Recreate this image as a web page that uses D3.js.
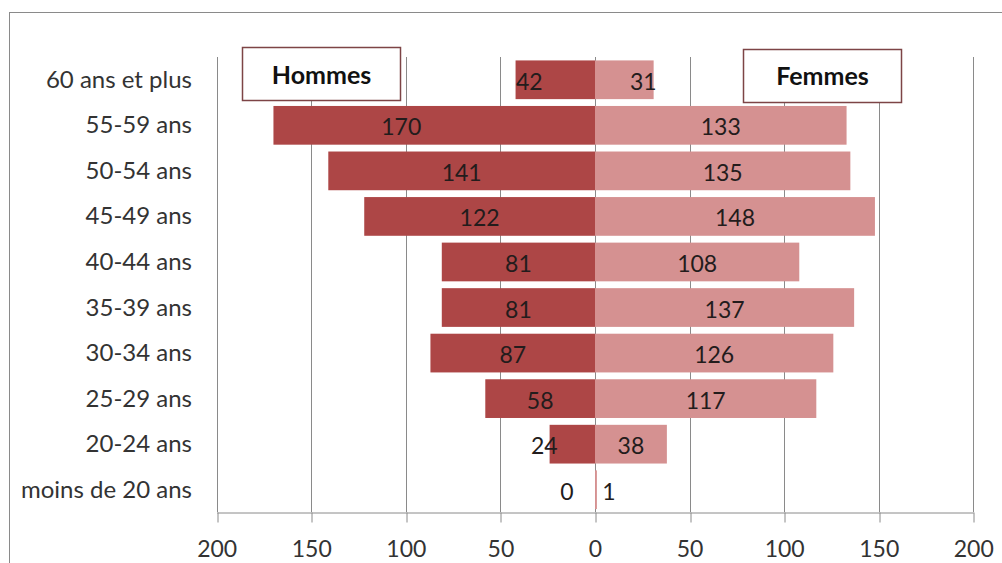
<!DOCTYPE html>
<html>
<head>
<meta charset="utf-8">
<script src="https://cdn.jsdelivr.net/npm/d3@7"></script>
<style>
  html, body { margin: 0; padding: 0; background: #fff; }
  svg { display: block; }
  text { font-family: Lato, "Open Sans", sans-serif; }
</style>
</head>
<body>
<svg id="chart" width="1002" height="563"></svg>
<script>
// Effectifs par tranche d'âge
const categories = ["60 ans et plus", "55-59 ans", "50-54 ans", "45-49 ans", "40-44 ans",
                    "35-39 ans", "30-34 ans", "25-29 ans", "20-24 ans", "moins de 20 ans"];
const hommes = [42, 170, 141, 122, 81, 81, 87, 58, 24, 0];
const femmes = [31, 133, 135, 148, 108, 137, 126, 117, 38, 1];
const tickValues = [-200, -150, -100, -50, 0, 50, 100, 150, 200];
const tickLabels = ["200", "150", "100", "50", "0", "50", "100", "150", "200"];
const seriesNames = ["Hommes", "Femmes"];

const colHommes = "#ad4646";
const colFemmes = "#d59191";
const gridCol = "#8a8a8a";

const svg = d3.select("#chart");

// chart frame
svg.append("rect")
  .attr("x", 9.5).attr("y", 12.5).attr("width", 1100).attr("height", 600)
  .attr("fill", "none").attr("stroke", gridCol).attr("stroke-width", 1);

const plotTop = 57, plotBottom = 512;
const x = d3.scaleLinear().domain([-200, 200]).range([216.7, 973.3]);
const y = d3.scaleBand().domain(categories).range([plotTop, plotBottom + 0.5])
  .paddingInner(0.15).paddingOuter(0.075);

// vertical gridlines
svg.append("g").selectAll("line").data(tickValues).join("line")
  .attr("x1", d => Math.round(x(d)) + 0.5).attr("x2", d => Math.round(x(d)) + 0.5)
  .attr("y1", plotTop).attr("y2", plotBottom)
  .attr("stroke", gridCol).attr("stroke-width", 1);

// bottom axis
const axis = svg.append("g")
  .attr("transform", `translate(0,${plotBottom + 0.5})`)
  .call(d3.axisBottom(x).tickValues(tickValues)
    .tickFormat((d, i) => tickLabels[i])
    .tickSize(10).tickSizeOuter(0).tickPadding(18));
axis.select(".domain").attr("stroke", gridCol);
axis.selectAll(".tick line").attr("stroke", gridCol)
  .attr("transform", d => `translate(${Math.round(x(d)) + 0.5 - x(d)},0)`);
axis.selectAll(".tick text")
  .attr("fill", "#333").style("font-size", "23px")
  .style("font-family", "Lato, 'Open Sans', sans-serif");

// category labels
svg.append("g").selectAll("text").data(categories).join("text")
  .attr("x", 192).attr("y", d => y(d) + y.bandwidth() / 2 + 8)
  .attr("text-anchor", "end").attr("fill", "#333")
  .style("font-size", "24px").text(d => d);

// bars
const rows = categories.map((c, i) => ({ cat: c, h: hommes[i], f: femmes[i] }));
svg.append("g").selectAll("rect").data(rows).join("rect")
  .attr("x", d => x(-d.h)).attr("width", d => x(0) - x(-d.h))
  .attr("y", d => y(d.cat)).attr("height", y.bandwidth())
  .attr("fill", colHommes);
svg.append("g").selectAll("rect").data(rows).join("rect")
  .attr("x", x(0)).attr("width", d => x(d.f) - x(0))
  .attr("y", d => y(d.cat)).attr("height", y.bandwidth())
  .attr("fill", colFemmes);

// value labels (a few are moved aside to stay readable)
const nudgeH = { "60 ans et plus": -26, "55-59 ans": -33, "20-24 ans": -28, "moins de 20 ans": -28 };
const nudgeF = { "60 ans et plus": 19, "moins de 20 ans": 13 };
const labelG = svg.append("g").style("font-size", "23px").attr("fill", "#231c1c")
  .attr("text-anchor", "middle");
labelG.selectAll("text.h").data(rows).join("text").attr("class", "h")
  .attr("x", d => (x(-d.h) + x(0)) / 2 + (nudgeH[d.cat] || 0))
  .attr("y", d => y(d.cat) + y.bandwidth() / 2 + 10)
  .text(d => d.h);
labelG.selectAll("text.f").data(rows).join("text").attr("class", "f")
  .attr("x", d => (x(d.f) + x(0)) / 2 + (nudgeF[d.cat] || 0))
  .attr("y", d => y(d.cat) + y.bandwidth() / 2 + 10)
  .text(d => d.f);

// series title boxes
const boxes = [
  { name: seriesNames[0], x: 242.5, y: 47.5, w: 158, h: 53, base: 84 },
  { name: seriesNames[1], x: 743.5, y: 49.5, w: 158, h: 53, base: 85 }
];
const bg = svg.append("g").selectAll("g").data(boxes).join("g");
bg.append("rect")
  .attr("x", d => d.x).attr("y", d => d.y).attr("width", d => d.w).attr("height", d => d.h)
  .attr("fill", "#fff").attr("stroke", "#7d4446").attr("stroke-width", 1.5);
bg.append("text")
  .attr("x", d => d.x + d.w / 2).attr("y", d => d.base)
  .attr("text-anchor", "middle").attr("fill", "#111")
  .style("font-size", "25px").style("font-weight", "bold")
  .text(d => d.name);
</script>
</body>
</html>
